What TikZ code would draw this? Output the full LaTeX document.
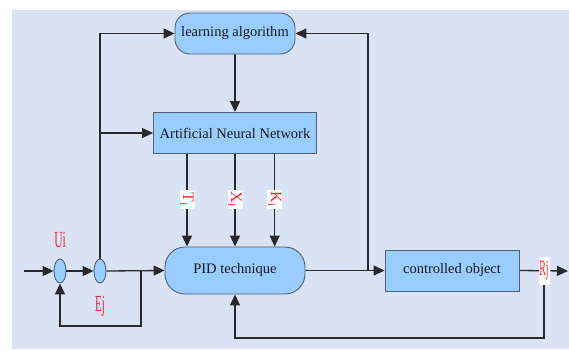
\documentclass[tikz,border=0pt]{standalone}
\usepackage{fontspec}
\setmainfont{Liberation Serif}
\usetikzlibrary{arrows.meta,shapes.geometric}
\pgfdeclarelayer{bg}
\pgfsetlayers{bg,main}
\definecolor{panel}{RGB}{218,227,243}
\definecolor{boxfill}{RGB}{153,204,255}
\definecolor{boxline}{RGB}{80,96,118}
\definecolor{wire}{RGB}{40,40,45}
\definecolor{sig}{RGB}{236,40,52}
\tikzset{
  block/.style={draw=boxline, line width=0.9pt, fill=boxfill, text=black!90,
    font=\rmfamily\fontsize{14.5}{17}\selectfont, inner sep=0pt, align=center},
  roundblock/.style={block, rounded corners=#1},
  junction/.style={ellipse, draw=boxline, line width=0.9pt, fill=boxfill,
    minimum width=12pt, minimum height=24pt, inner sep=0pt},
  arr/.style={draw=wire, line width=1.3pt, -{Triangle[length=11pt,width=10pt]}},
  signame/.style={text=sig, inner sep=0pt, font=\rmfamily},
  gain/.style={fill=white, text=sig, inner sep=0.5pt, rotate=-90,
    minimum width=19pt, minimum height=15pt, font=\rmfamily\fontsize{16}{16}\selectfont}
}
\begin{document}
\begin{tikzpicture}[x=1pt, y=-1pt]
\useasboundingbox (0,0) rectangle (569,349);

% blocks
\node[roundblock=15pt, minimum width=120pt, minimum height=41pt] (la) at (235,33.5) {learning algorithm};
\node[block, minimum width=163pt, minimum height=41pt] (ann) at (235,133) {Artificial Neural Network};
\node[roundblock=20pt, minimum width=140pt, minimum height=47pt] (pid) at (235,270.5) {PID technique};
\node[block, minimum width=134pt, minimum height=41pt] (co) at (452,270.5) {controlled object};

% summing junctions
\node[junction] (u) at (60,271) {};
\node[junction] (e) at (100,271) {};

% signal names
\node[signame] (ui) at (60,240) {\scalebox{0.5}[1]{\fontsize{23}{23}\selectfont Ui}};
\node[signame] (ej) at (100,306) {\scalebox{0.48}[1]{\fontsize{23}{23}\selectfont Ej}};
\node[signame, fill=white, minimum width=11pt, minimum height=28pt] (rj) at (544,271)
  {\scalebox{0.45}[1]{\fontsize{22}{22}\selectfont Rj}};

% gains passed from the network to the controller
\node[gain] (gt) at (187,199.5) {T\textsubscript{i}};
\node[gain] (gx) at (235,199.5) {X\textsubscript{i}};
\node[gain] (gk) at (274.7,199.5) {K\textsubscript{i}};

% helper points
\coordinate (in) at (24,271);
\coordinate (out) at (568,271);
\coordinate (sp) at (141,271);
\coordinate (lp) at (141,326);
\coordinate (rb) at (368,271);
\coordinate (fbr) at (544,338);

\begin{pgfonlayer}{bg}
  \fill[panel] (12,10) rectangle (569,349);
  % forward path
  \draw[arr] (in) -- (u.west);
  \draw[arr] (u.east) -- (e.west);
  \draw[arr] (e.east) -- (pid.west);
  \draw[arr] (pid.east) -- (co.west);
  \draw[arr] (co.east) -- (out);
  % inner loop back to the first junction
  \draw[arr] (sp) -- (lp) -| (u.south);
  % error to the learning algorithm and the network
  \draw[arr] (e.north) |- (la.west);
  \draw[arr] (e.north |- ann.west) -- (ann.west);
  % controller output to the learning algorithm
  \draw[arr] (rb) |- (la.east);
  % learning algorithm trains the network
  \draw[arr] (la.south) -- (ann.north);
  % gains
  \draw[arr] (gt |- ann.south) -- (gt |- pid.north);
  \draw[arr] (gx |- ann.south) -- (gx |- pid.north);
  \draw[arr] (gk |- ann.south) -- (gk |- pid.north);
  % plant output fed back to the controller
  \draw[arr] (rj.south) -- (fbr) -| (pid.south);
\end{pgfonlayer}
\end{tikzpicture}
\end{document}
